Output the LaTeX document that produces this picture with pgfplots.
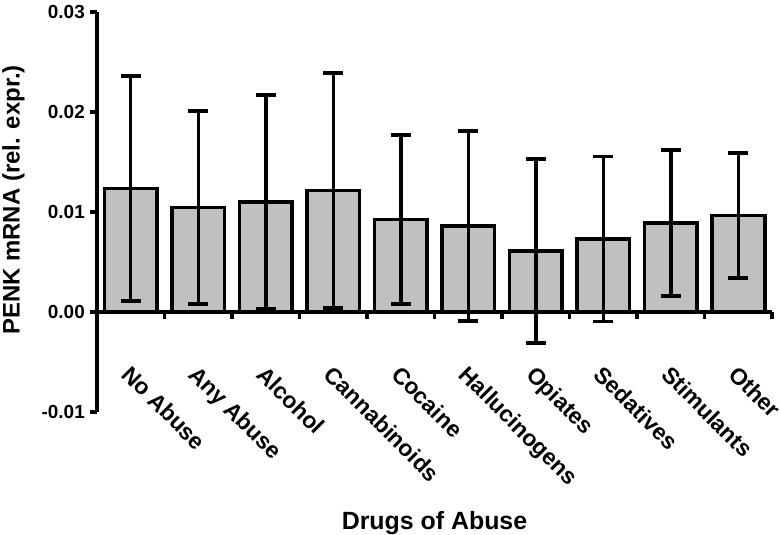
\documentclass[border=0pt]{standalone}
\usepackage{fontspec}
\setmainfont{Liberation Sans}
\usepackage{pgfplots}
\pgfplotsset{compat=1.18}
\usetikzlibrary{calc}
\definecolor{barfill}{RGB}{192,192,192}

\pgfplotstableread{
x y err
0.5 0.01235 0.01125
1.5 0.01045 0.00965
2.5 0.0110 0.0107
3.5 0.01215 0.01175
4.5 0.00925 0.00845
5.5 0.0086 0.0095
6.5 0.0061 0.0092
7.5 0.0073 0.00825
8.5 0.0089 0.0073
9.5 0.00965 0.00625
}\datatable

\begin{document}
\begin{tikzpicture}
\begin{axis}[
  name=ax,
  scale only axis,
  width=675bp, height=400bp,
  xmin=0, xmax=10,
  ymin=-0.01, ymax=0.03,
  axis y line=left,
  axis x line=middle,
  axis line style={-, line width=3.5bp},
  hide obscured x ticks=false,
  hide obscured y ticks=false,
  tick align=outside,
  major tick length=7bp,
  tick style={line width=3.5bp, black},
  ytick={-0.01,0,0.01,0.02,0.03},
  yticklabels={-0.01,0.00,0.01,0.02,0.03},
  yticklabel style={font=\fontsize{19}{22}\bfseries\selectfont, inner sep=5bp},
  xtick={1,2,3,4,5,6,7,8,9,10},
  xticklabel=\empty,
  extra x ticks={0.52,1.52,2.52,3.52,4.52,5.52,6.52,7.52,8.52,9.52},
  extra x tick labels={No Abuse,Any Abuse,Alcohol,Cannabinoids,Cocaine,Hallucinogens,Opiates,Sedatives,Stimulants,Other},
  extra x tick style={
    major tick length=0pt,
    xticklabel style={rotate=-45, anchor=north west, inner sep=0pt,
      font=\fontsize{23}{26}\bfseries\selectfont},
    xticklabel shift=52bp,
  },
  ylabel={PENK mRNA (rel. expr.)},
  ylabel style={font=\fontsize{24}{28}\bfseries\selectfont, at={(axis description cs:-0.107,0.53)}, anchor=south, inner sep=0pt},
  xlabel={Drugs of Abuse},
  xlabel style={font=\fontsize{25}{29}\bfseries\selectfont, at={(axis description cs:0.5,-0.247)}, anchor=north, inner sep=0pt},
  clip=false,
]
\addplot[ybar, bar width=0.785, fill=barfill, draw=black, line width=3.5bp,
  error bars/.cd, y dir=both, y explicit,
  error bar style={line width=3.5bp, black},
  error mark options={rotate=90, mark size=10bp, line width=3.5bp, black}]
  table[x=x, y=y, y error=err] {\datatable};
\end{axis}
\pgfresetboundingbox
\path ($(ax.south west)+(-97bp,-123bp)$) rectangle ($(ax.north east)+(8bp,12bp)$);
\end{tikzpicture}
\end{document}
